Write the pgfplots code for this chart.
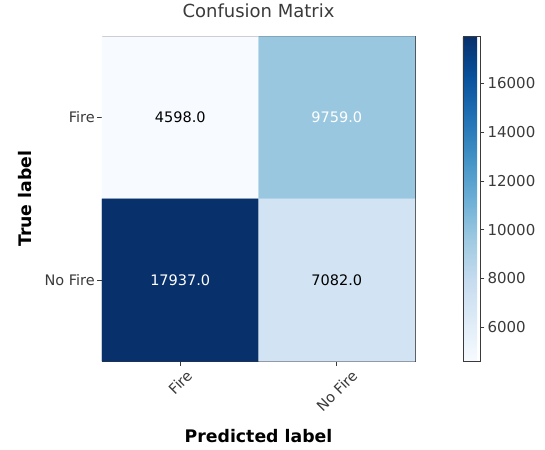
\documentclass[border=0pt]{standalone}
\usepackage{fontspec}
\setmainfont{DejaVu Sans}
\usepackage{pgfplots}
\pgfplotsset{compat=1.18}
\usepackage{pgfplotstable}
\pgfplotstableread{
x y C
0 0 4598
1 0 9759
0 1 17937
1 1 7082
}\cm
\pgfplotstableread{
x y L
0 0 4598.0
1 1 7082.0
}\darktext
\pgfplotstableread{
x y L
1 0 9759.0
0 1 17937.0
}\lighttext
\definecolor{axgray}{HTML}{3A3A3A}
\begin{document}
\begin{tikzpicture}
\begin{axis}[
  at={(0,0)}, anchor=south west,
  scale only axis,
  width=313pt, height=325pt,
  xmin=-0.5, xmax=1.5, ymin=-0.5, ymax=1.5,
  y dir=reverse,
  enlargelimits=false,
  axis line style={axgray, line width=0.7pt},
  tick style={axgray, line width=0.6pt},
  tick align=outside,
  major tick length=4.5pt,
  xtick pos=bottom, ytick pos=left,
  xtick={0,1}, xticklabels={\rotatebox{45}{Fire}, \rotatebox{45}{No Fire}},
  ytick={0,1}, yticklabels={Fire, No Fire},
  xticklabel style={anchor=north, font=\fontsize{14.5}{16}\selectfont, text=axgray, inner sep=3pt},
  yticklabel style={font=\fontsize{14.5}{16}\selectfont, text=axgray, inner sep=2.5pt},
  title={Confusion Matrix},
  title style={at={(axis description cs:0.5,1.0615)}, anchor=center, font=\fontsize{18}{20}\selectfont, text=axgray},
  xlabel={\textbf{Predicted label}},
  ylabel={\textbf{True label}},
  xlabel style={at={(axis description cs:0.5,-0.2308)}, anchor=center, font=\fontsize{17.3}{19}\selectfont},
  ylabel style={at={(axis description cs:-0.246,0.5)}, anchor=center, font=\fontsize{17.3}{19}\selectfont},
  colormap={blues}{
    rgb255(0)=(247,251,255)
    rgb255(1)=(222,235,247)
    rgb255(2)=(198,219,239)
    rgb255(3)=(158,202,225)
    rgb255(4)=(107,174,214)
    rgb255(5)=(66,146,198)
    rgb255(6)=(33,113,181)
    rgb255(7)=(8,81,156)
    rgb255(8)=(8,48,107)
  },
  point meta min=4598, point meta max=17937,
  colorbar,
  colorbar style={
    width=17pt,
    at={(1.153,1)}, anchor=north west,
    ytick={6000,8000,10000,12000,14000,16000},
    scaled y ticks=false,
    yticklabel style={font=\fontsize{15}{17}\selectfont, text=axgray, /pgf/number format/1000 sep={}, /pgf/number format/assume math mode=true, inner sep=3pt},
    tick align=outside,
    major tick length=4.5pt,
    tick style={axgray, line width=0.6pt},
    axis line style={axgray, line width=0.7pt},
    ytick pos=right,
  },
]
\addplot[matrix plot*, mesh/cols=2, point meta=explicit] table[x=x, y=y, meta=C] {\cm};
\addplot[only marks, mark=none, nodes near coords, point meta=explicit symbolic,
  nodes near coords style={anchor=center, font=\fontsize{14.5}{16}\selectfont, text=black}]
  table[x=x, y=y, meta=L] {\darktext};
\addplot[only marks, mark=none, nodes near coords, point meta=explicit symbolic,
  nodes near coords style={anchor=center, font=\fontsize{14.5}{16}\selectfont, text=white}]
  table[x=x, y=y, meta=L] {\lighttext};
\end{axis}
\path (-102pt,-88pt) rectangle (443pt,357pt);
\end{tikzpicture}
\end{document}
